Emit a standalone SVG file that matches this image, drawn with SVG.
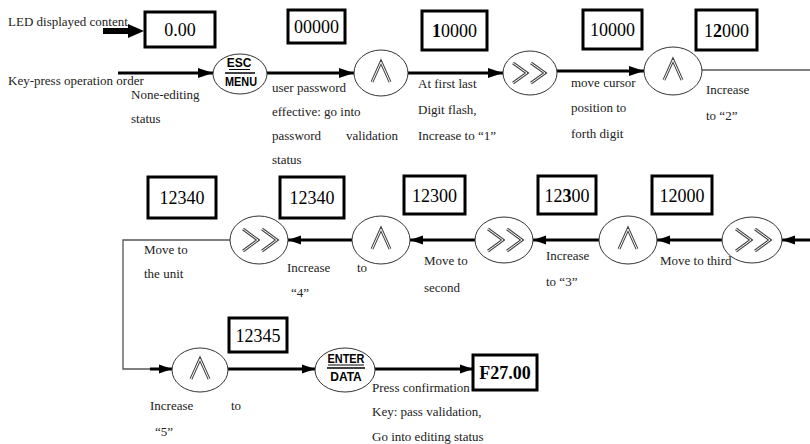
<svg xmlns="http://www.w3.org/2000/svg" width="810" height="444" viewBox="0 0 810 444">
<defs>
<marker id="ah" markerUnits="userSpaceOnUse" markerWidth="16" markerHeight="10" refX="15" refY="5" orient="auto"><path d="M0,0 L15,5 L0,10 Z" fill="#000"/></marker>
<marker id="ahs" markerUnits="userSpaceOnUse" markerWidth="14" markerHeight="10" refX="13" refY="5" orient="auto"><path d="M0,0.5 L13,5 L0,9.5 Z" fill="#000"/></marker>
</defs>
<style>
text{font-family:'Liberation Serif','DejaVu Serif',serif}
.lbl{font-size:13px;fill:#222}
.num{font-size:18px;fill:#000;text-anchor:middle}
.box{fill:#fff;stroke:#000;stroke-width:3}
.key{fill:#fff;stroke:#333;stroke-width:1}
.ln{stroke:#000;stroke-width:3;fill:none}
.thin{stroke:#555;stroke-width:1.3;fill:none}
.ic{fill:none;stroke:#444;stroke-width:3;stroke-linejoin:miter}
.ici{fill:none;stroke:#fff;stroke-width:1}
text.kt{font-family:'Liberation Sans',Arial,sans-serif;font-weight:bold;font-size:12px;fill:#000;text-anchor:middle}
</style>

<g id="connectors">
<line x1="103" y1="31" x2="130" y2="31" stroke="#000" stroke-width="6"/>
<polygon points="128,24 144,31 128,38" fill="#000"/>
<line class="ln" x1="118" y1="73" x2="213" y2="73" marker-end="url(#ah)"/>
<line class="ln" x1="267" y1="73" x2="354" y2="73" marker-end="url(#ah)"/>
<line class="ln" x1="408" y1="73" x2="503" y2="73" stroke-width="3.5" marker-end="url(#ah)"/>
<line class="ln" x1="557" y1="71" x2="644" y2="71" stroke-width="2" marker-end="url(#ah)"/>
<line class="thin" x1="702" y1="70" x2="810" y2="70"/>
<line class="ln" x1="810" y1="240" x2="782" y2="240" marker-end="url(#ahs)"/>
<line class="ln" x1="722" y1="240" x2="657" y2="240" marker-end="url(#ahs)"/>
<line class="ln" x1="599" y1="240" x2="533" y2="240" marker-end="url(#ahs)"/>
<line class="ln" x1="475" y1="240" x2="410" y2="240" marker-end="url(#ahs)"/>
<line class="ln" x1="352" y1="240" x2="288" y2="240" marker-end="url(#ahs)"/>
<polyline class="thin" points="230,240 123,240 123,369 158,369"/>
<line class="ln" x1="150" y1="369" x2="172" y2="369" stroke-width="2" marker-end="url(#ahs)"/>
<line class="ln" x1="228" y1="369" x2="315" y2="369" stroke-width="2" marker-end="url(#ahs)"/>
<line class="ln" x1="375" y1="369" x2="473" y2="369" stroke-width="2" marker-end="url(#ahs)"/>
</g>

<g id="labels">
<text class="lbl" x="8" y="26">LED displayed content</text>
<text class="lbl" x="8" y="85">Key-press operation order</text>
<text class="lbl" x="131" y="99">None-editing</text>
<text class="lbl" x="131" y="123">status</text>
<text class="lbl" x="272" y="92">user password</text>
<text class="lbl" x="272" y="116">effective: go into</text>
<text class="lbl" x="272" y="140">password</text>
<text class="lbl" x="346" y="140">validation</text>
<text class="lbl" x="272" y="164">status</text>
<text class="lbl" x="418" y="88">At first last</text>
<text class="lbl" x="418" y="114">Digit flash,</text>
<text class="lbl" x="418" y="140">Increase to “1”</text>
<text class="lbl" x="571" y="87">move cursor</text>
<text class="lbl" x="571" y="112">position to</text>
<text class="lbl" x="571" y="138">forth digit</text>
<text class="lbl" x="706" y="94">Increase</text>
<text class="lbl" x="706" y="120">to “2”</text>
<text class="lbl" x="144" y="254">Move to</text>
<text class="lbl" x="144" y="278">the unit</text>
<text class="lbl" x="287" y="272">Increase</text>
<text class="lbl" x="357" y="272">to</text>
<text class="lbl" x="291" y="297">“4”</text>
<text class="lbl" x="424" y="265">Move to</text>
<text class="lbl" x="424" y="292">second</text>
<text class="lbl" x="546" y="260">Increase</text>
<text class="lbl" x="546" y="286">to “3”</text>
<text class="lbl" x="660" y="265">Move to third</text>
<text class="lbl" x="150" y="410">Increase</text>
<text class="lbl" x="231" y="410">to</text>
<text class="lbl" x="155" y="436">“5”</text>
<text class="lbl" x="372" y="392">Press confirmation</text>
<text class="lbl" x="372" y="416">Key: pass validation,</text>
<text class="lbl" x="372" y="441">Go into editing status</text>
</g>

<g id="box-0.00"><rect class="box" x="145" y="12" width="70" height="35" stroke-width="2"/><text class="num" x="180" y="36">0.00</text></g>
<g id="box-00000"><rect class="box" x="288" y="10" width="57" height="33"/><text class="num" x="316.5" y="33">00000</text></g>
<g id="box-10000a"><rect class="box" x="422" y="11" width="65" height="39"/><text class="num" x="454.5" y="37"><tspan font-weight="bold">1</tspan>0000</text></g>
<g id="box-10000b"><rect class="box" x="583" y="10" width="59" height="39"/><text class="num" x="612.5" y="36">10000</text></g>
<g id="box-12000a"><rect class="box" x="696" y="10" width="61" height="40"/><text class="num" x="726.5" y="37">1<tspan font-weight="bold">2</tspan>000</text></g>
<g id="box-12340a"><rect class="box" x="148" y="177" width="68" height="41"/><text class="num" x="182" y="204">12340</text></g>
<g id="box-12340b"><rect class="box" x="280" y="177" width="64" height="41"/><text class="num" x="312" y="204">12340</text></g>
<g id="box-12300a"><rect class="box" x="404" y="176" width="61" height="38"/><text class="num" x="434.5" y="202">12300</text></g>
<g id="box-12300b"><rect class="box" x="538" y="176" width="58" height="38"/><text class="num" x="567" y="202">12<tspan font-weight="bold">3</tspan>00</text></g>
<g id="box-12000b"><rect class="box" x="652" y="176" width="60" height="38"/><text class="num" x="682" y="202">12000</text></g>
<g id="box-12345"><rect class="box" x="229" y="318" width="58" height="34"/><text class="num" x="258" y="342">12345</text></g>
<g id="box-F27"><rect class="box" x="473" y="355" width="64" height="35"/><text class="num" x="505" y="379" font-weight="bold">F27.00</text></g>

<g id="key-esc"><ellipse class="key" cx="240" cy="74" rx="27" ry="20"/>
<text class="kt" x="239" y="67" font-size="11">ESC</text><line x1="229" y1="69.5" x2="250" y2="69.5" stroke="#000" stroke-width="1"/><line x1="225" y1="73" x2="255" y2="73" stroke="#000" stroke-width="1.5"/>
<text class="kt" x="241" y="86" textLength="32" lengthAdjust="spacingAndGlyphs">MENU</text></g>

<g id="key-up1"><ellipse class="key" cx="381" cy="73" rx="27" ry="23"/><polyline class="ic" points="372,82 381,62 390,82"/><polyline class="ici" points="372,82 381,62 390,82"/></g>
<g id="key-sh1"><ellipse class="key" cx="530" cy="73" rx="27" ry="22"/><polyline class="ic" points="513,63 527,73 513,83"/><polyline class="ici" points="513,63 527,73 513,83"/><polyline class="ic" points="531,63 545,73 531,83"/><polyline class="ici" points="531,63 545,73 531,83"/></g>
<g id="key-up2"><ellipse class="key" cx="673" cy="71" rx="29" ry="24"/><polyline class="ic" points="664,80 673,60 682,80"/><polyline class="ici" points="664,80 673,60 682,80"/></g>

<g id="key-sh2"><ellipse class="key" cx="752" cy="240" rx="30" ry="23"/><polyline class="ic" points="736,229 751,240 736,251"/><polyline class="ici" points="736,229 751,240 736,251"/><polyline class="ic" points="755,229 770,240 755,251"/><polyline class="ici" points="755,229 770,240 755,251"/></g>
<g id="key-up3"><ellipse class="key" cx="628" cy="240" rx="29" ry="24"/><polyline class="ic" points="619,249 628,229 637,249"/><polyline class="ici" points="619,249 628,229 637,249"/></g>
<g id="key-sh3"><ellipse class="key" cx="504" cy="240" rx="29" ry="23"/><polyline class="ic" points="488,229 503,240 488,251"/><polyline class="ici" points="488,229 503,240 488,251"/><polyline class="ic" points="507,229 522,240 507,251"/><polyline class="ici" points="507,229 522,240 507,251"/></g>
<g id="key-up4"><ellipse class="key" cx="381" cy="240" rx="29" ry="24"/><polyline class="ic" points="372,249 381,229 390,249"/><polyline class="ici" points="372,249 381,229 390,249"/></g>
<g id="key-sh4"><ellipse class="key" cx="259" cy="240" rx="29" ry="24"/><polyline class="ic" points="243,229 258,240 243,251"/><polyline class="ici" points="243,229 258,240 243,251"/><polyline class="ic" points="262,229 277,240 262,251"/><polyline class="ici" points="262,229 277,240 262,251"/></g>

<g id="key-up5"><ellipse class="key" cx="200" cy="370" rx="28" ry="22"/><polyline class="ic" points="191,379 200,359 209,379"/><polyline class="ici" points="191,379 200,359 209,379"/></g>
<g id="key-enter"><ellipse class="key" cx="345" cy="370" rx="30" ry="22"/>
<text class="kt" x="346" y="363" font-size="11" textLength="37" lengthAdjust="spacingAndGlyphs">ENTER</text><line x1="328" y1="365" x2="364" y2="365" stroke="#000" stroke-width="1"/><line x1="327" y1="368" x2="365" y2="368" stroke="#000" stroke-width="1.5"/>
<text class="kt" x="346" y="381">DATA</text></g>
</svg>
